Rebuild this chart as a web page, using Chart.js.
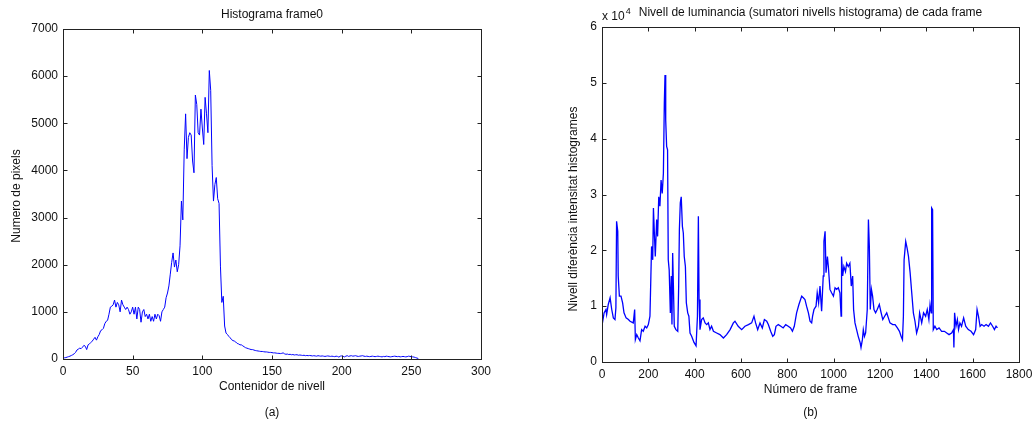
<!DOCTYPE html>
<html>
<head>
<meta charset="utf-8">
<script src="https://cdn.jsdelivr.net/npm/chart.js@4.4.0/dist/chart.umd.min.js"></script>
<style>
  body { margin: 0; background: #fff; width: 1032px; height: 421px; overflow: hidden; position: relative; }
  canvas { position: absolute; top: 0; }
</style>
</head>
<body>
<canvas id="histChart" width="516" height="421" style="left:0"></canvas>
<canvas id="lumChart" width="516" height="421" style="left:516px"></canvas>
<script>
// (a) histogram of frame0, bins 0..255
const histCounts = [
  20, 25, 30, 40, 50, 60, 75, 90, 110, 140, 190, 210, 230, 220, 250, 290,
  270, 200, 300, 320, 350, 380, 420, 460, 400, 470, 520, 600, 620, 650, 750, 800,
  820, 950, 1100, 1120, 1150, 1250, 1100, 1200, 1150, 1000, 1250, 1150, 1100, 1050, 1100, 1050,
  950, 1000, 1100, 950, 1100, 850, 1100, 1050, 780, 1000, 1050, 900, 950, 850, 950, 800,
  900, 800, 950, 850, 950, 920, 800, 1000, 1050, 1100, 1300, 1400, 1550, 1800, 2050, 2250,
  1950, 2100, 1850, 2000, 2400, 3350, 2950, 4450, 5200, 4250, 4700, 4800, 4750, 4200, 3950, 5600,
  5400, 4800, 4750, 5300, 4900, 4550, 5550, 5200, 4800, 6120, 5700, 4100, 3350, 3700, 3850, 3400,
  3300, 1970, 1200, 1330, 700, 550, 520, 480, 450, 410, 390, 380, 360, 330, 320, 300,
  300, 280, 260, 240, 230, 220, 210, 200, 200, 190, 180, 175, 170, 165, 160, 160,
  155, 150, 150, 145, 140, 140, 135, 130, 130, 125, 120, 120, 115, 120, 130, 110,
  100, 105, 95, 100, 90, 95, 85, 90, 90, 80, 85, 80, 75, 80, 70, 75,
  70, 75, 70, 65, 70, 65, 60, 70, 65, 60, 65, 60, 55, 60, 65, 60,
  55, 60, 55, 50, 60, 55, 40, 60, 65, 55, 45, 60, 70, 55, 65, 70,
  60, 65, 70, 60, 55, 60, 65, 70, 60, 55, 60, 55, 50, 55, 60, 55,
  50, 55, 60, 55, 50, 45, 55, 50, 60, 55, 50, 45, 50, 55, 60, 55,
  50, 55, 45, 50, 55, 50, 45, 50, 60, 55, 50, 45, 40, 30, 20, 10
];
const histXTicks = [0, 50, 100, 150, 200, 250, 300];
const histYTicks = [0, 1000, 2000, 3000, 4000, 5000, 6000, 7000];

// (b) luminance difference per frame
const frames = [
  0, 9, 17, 20, 27, 35, 42, 49, 56, 60, 63, 68, 70, 75, 82, 89, 95, 104, 114, 121,
  135, 141, 144, 150, 157, 164, 171, 178, 186, 193, 200, 207, 211, 214, 219, 222, 226, 230, 236, 240,
  245, 250, 255, 260, 265, 269, 272, 275, 279, 283, 286, 290, 295, 299, 302, 305, 308, 312, 319, 327,
  331, 334, 338, 342, 347, 351, 355, 360, 364, 370, 375, 380, 387, 397, 406, 412, 416, 419, 423, 430,
  437, 445, 452, 459, 466, 473, 481, 495, 509, 524, 538, 553, 567, 574, 588, 603, 617, 632, 646, 656,
  663, 672, 682, 692, 701, 711, 718, 728, 737, 744, 751, 761, 772, 782, 793, 804, 814, 822, 830, 840,
  850, 862, 869, 876, 883, 891, 898, 905, 909, 915, 924, 929, 935, 941, 948, 955, 958, 963, 967, 973,
  977, 984, 991, 999, 1006, 1013, 1020, 1027, 1032, 1034, 1039, 1044, 1051, 1056, 1063, 1070, 1076, 1082, 1086, 1092,
  1099, 1106, 1114, 1118, 1124, 1128, 1133, 1138, 1145, 1150, 1154, 1158, 1163, 1168, 1174, 1181, 1188, 1197, 1205, 1212,
  1220, 1229, 1236, 1243, 1255, 1265, 1275, 1284, 1291, 1297, 1301, 1304, 1311, 1317, 1323, 1330, 1337, 1344, 1351, 1358,
  1366, 1371, 1380, 1388, 1397, 1404, 1411, 1416, 1421, 1423, 1427, 1430, 1437, 1445, 1455, 1466, 1478, 1488, 1498, 1509,
  1517, 1519, 1522, 1528, 1534, 1539, 1545, 1552, 1561, 1570, 1581, 1593, 1604, 1613, 1619, 1625, 1632, 1639, 1649, 1658,
  1668, 1677, 1686, 1694, 1701, 1707
];
const lumDiff = [
  6500, 8800, 9400, 8500, 10300, 11500, 9400, 7900, 7600, 9700, 25200, 23400, 15400, 11800, 11800, 10600, 8800, 7900, 7600, 7300,
  7000, 9400, 4000, 4900, 4300, 3800, 5800, 5500, 6400, 6100, 6700, 8200, 15400, 20700, 18300, 27600, 23100, 18900, 25500, 22500,
  29600, 27900, 32600, 30200, 33800, 46300, 51400, 43300, 38600, 38000, 18300, 16500, 8800, 15400, 6700, 19500, 14000, 6400, 5800, 5500,
  13600, 23700, 28500, 29600, 24300, 23100, 18900, 17100, 10600, 8800, 8200, 5200, 4600, 3500, 2900, 8200, 26100, 11200, 5800, 7600,
  7900, 7000, 6700, 7000, 5800, 6400, 5500, 5200, 4900, 4300, 4900, 5800, 7000, 7300, 6400, 5800, 6400, 6700, 7000, 8200,
  7000, 5800, 7000, 6100, 7600, 7300, 6700, 5500, 4600, 4900, 6400, 6700, 6400, 6100, 6700, 6400, 6100, 5500, 6400, 8800,
  10300, 11800, 11500, 11200, 10000, 8800, 7300, 7000, 8200, 9400, 10000, 12400, 10600, 13600, 9100, 15400, 21600, 23400, 16000, 18900,
  17100, 13000, 12400, 11800, 13300, 13000, 13300, 12400, 8200, 18900, 15400, 17100, 16200, 17700, 17100, 17700, 13600, 15400, 9400, 7000,
  5800, 4600, 3500, 2600, 4000, 5800, 4600, 5200, 9400, 25500, 20700, 9400, 13000, 11800, 9400, 8800, 9400, 10300, 8800, 7600,
  8200, 8800, 7900, 7000, 6700, 6700, 6100, 5500, 4600, 4000, 8200, 18300, 21600, 20400, 18900, 16000, 12400, 8800, 7300, 5200,
  6400, 8800, 7000, 8800, 8200, 9400, 7600, 10300, 8800, 27600, 27300, 5800, 6400, 5800, 6100, 5500, 5500, 5200, 4900, 5200,
  5800, 2600, 8800, 6400, 7600, 5800, 7000, 6400, 7900, 6400, 5800, 5500, 4900, 5800, 9400, 8200, 6400, 6700, 6400, 6700,
  6400, 7000, 6400, 5800, 6400, 6100
];
const lumXTicks = [0, 200, 400, 600, 800, 1000, 1200, 1400, 1600, 1800];
const lumYTicks = [0, 10000, 20000, 30000, 40000, 50000, 60000];

Chart.defaults.font.family = '"Liberation Sans", Arial, sans-serif';
Chart.defaults.font.size = 12;
Chart.defaults.color = '#111';

// matlab look: black box with inward ticks on all sides, plus titles
const matlabAxes = {
  id: 'matlabAxes',
  afterDraw(chart, args, opts) {
    const {ctx, chartArea: a, scales: {x, y}} = chart;
    const L = Math.round(a.left) + 0.5, R = Math.round(a.right) + 0.5;
    const T = Math.round(a.top) + 0.5, B = Math.round(a.bottom) + 0.5;
    ctx.save();
    ctx.strokeStyle = '#222';
    ctx.lineWidth = 1;
    ctx.strokeRect(L, T, R - L, B - T);
    ctx.beginPath();
    x.ticks.forEach(t => {
      const px = Math.round(x.getPixelForValue(t.value)) + 0.5;
      ctx.moveTo(px, B); ctx.lineTo(px, B - 4);
      ctx.moveTo(px, T); ctx.lineTo(px, T + 4);
    });
    y.ticks.forEach(t => {
      const py = Math.round(y.getPixelForValue(t.value)) + 0.5;
      ctx.moveTo(L, py); ctx.lineTo(L + 4, py);
      ctx.moveTo(R, py); ctx.lineTo(R - 4, py);
    });
    ctx.stroke();

    ctx.fillStyle = '#111';
    ctx.font = '12px "Liberation Sans", Arial, sans-serif';
    ctx.textAlign = 'center';
    ctx.textBaseline = 'middle';
    const cx = (a.left + a.right) / 2;
    ctx.fillText(opts.title, cx, opts.titleY);
    ctx.fillText(opts.caption, cx, opts.captionY);

    ctx.save();
    ctx.translate(opts.yTitleX, opts.yTitleY);
    ctx.rotate(-Math.PI / 2);
    ctx.fillText(opts.yTitle, 0, 0);
    ctx.restore();

    if (opts.exponent) {
      ctx.textAlign = 'left';
      ctx.fillText('x 10', a.left, 17);
      const w = ctx.measureText('x 10').width;
      ctx.font = '9px "Liberation Sans", Arial, sans-serif';
      ctx.fillText(opts.exponent, a.left + w + 1, 12);
    }
    ctx.restore();
  }
};

function fixedTicks(values) {
  return scale => { scale.ticks = values.map(v => ({value: v})); };
}

// Histograma
new Chart(document.getElementById('histChart'), {
  type: 'line',
  data: {
    datasets: [{
      data: histCounts.map((v, i) => ({x: i, y: v})),
      borderColor: '#0000ff',
      borderWidth: 1,
      pointRadius: 0,
      tension: 0
    }]
  },
  options: {
    responsive: false,
    animation: false,
    events: [],
    layout: {padding: {left: 6, top: 29, right: 35, bottom: 23}},
    plugins: {
      legend: {display: false},
      tooltip: {enabled: false},
      matlabAxes: {
        title: 'Histograma frame0', titleY: 15,
        caption: '(a)', captionY: 413,
        yTitle: 'Numero de pixels', yTitleX: 17, yTitleY: 196
      }
    },
    scales: {
      x: {
        type: 'linear', min: 0, max: 300,
        afterBuildTicks: fixedTicks(histXTicks),
        ticks: {maxRotation: 0, autoSkip: false, padding: 5, callback: v => String(v)},
        grid: {display: false, drawTicks: false},
        border: {display: false},
        title: {display: true, text: 'Contenidor de nivell', padding: {top: 2, bottom: 4}},
        afterFit: s => { s.height = 39; s.paddingLeft = 0; s.paddingRight = 0; }
      },
      y: {
        min: 0, max: 7000,
        afterBuildTicks: fixedTicks(histYTicks),
        ticks: {autoSkip: false, padding: 5, callback: v => String(v)},
        grid: {display: false, drawTicks: false},
        border: {display: false},
        afterFit: s => { s.width = 57; s.paddingTop = 0; s.paddingBottom = 0; }
      }
    }
  },
  plugins: [matlabAxes]
});

// Nivell de luminancia
new Chart(document.getElementById('lumChart'), {
  type: 'line',
  data: {
    datasets: [{
      data: frames.map((f, i) => ({x: f, y: lumDiff[i]})),
      borderColor: '#0000ff',
      borderWidth: 1.3,
      pointRadius: 0,
      tension: 0
    }]
  },
  options: {
    responsive: false,
    animation: false,
    events: [],
    layout: {padding: {left: 47, top: 27, right: 13, bottom: 20}},
    plugins: {
      legend: {display: false},
      tooltip: {enabled: false},
      matlabAxes: {
        title: 'Nivell de luminancia (sumatori nivells histograma) de cada frame', titleY: 13,
        caption: '(b)', captionY: 413,
        yTitle: 'Nivell diferència intensitat histogrames', yTitleX: 58, yTitleY: 209,
        exponent: '4'
      }
    },
    scales: {
      x: {
        type: 'linear', min: 0, max: 1800,
        afterBuildTicks: fixedTicks(lumXTicks),
        ticks: {maxRotation: 0, autoSkip: false, padding: 5, callback: v => String(v)},
        grid: {display: false, drawTicks: false},
        border: {display: false},
        title: {display: true, text: 'Número de frame', padding: {top: 2, bottom: 4}},
        afterFit: s => { s.height = 39; s.paddingLeft = 0; s.paddingRight = 0; }
      },
      y: {
        min: 0, max: 60000,
        afterBuildTicks: fixedTicks(lumYTicks),
        ticks: {autoSkip: false, padding: 5, callback: v => String(v / 10000)},
        grid: {display: false, drawTicks: false},
        border: {display: false},
        afterFit: s => { s.width = 39; s.paddingTop = 0; s.paddingBottom = 0; }
      }
    }
  },
  plugins: [matlabAxes]
});
</script>
</body>
</html>
